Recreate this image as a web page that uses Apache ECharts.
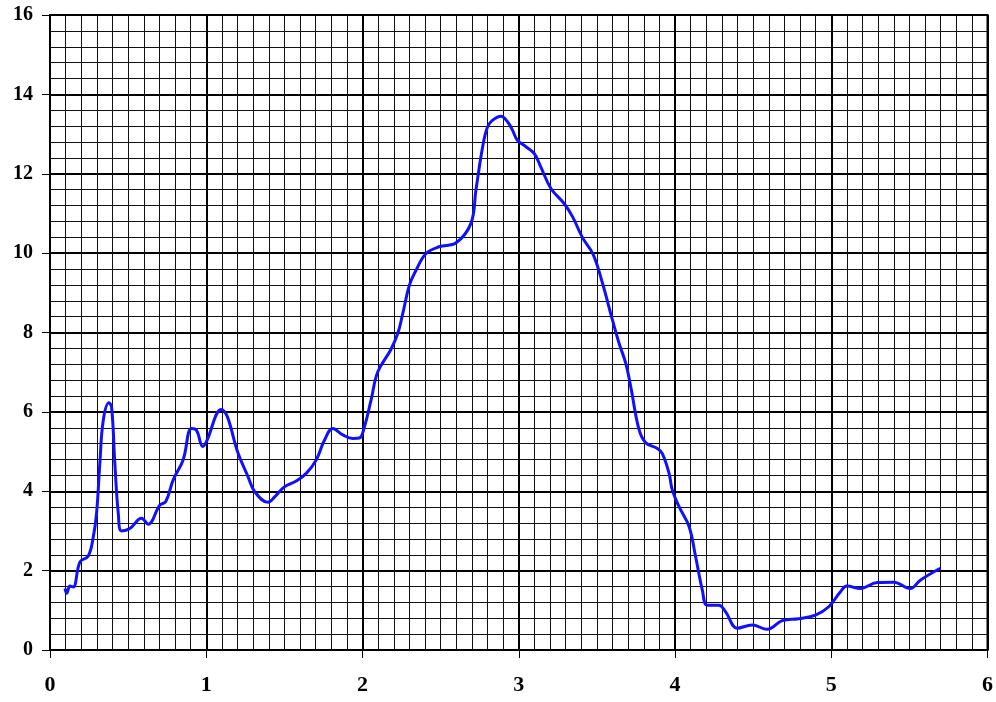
<!DOCTYPE html>
<html>
<head>
<meta charset="utf-8">
<script src="https://cdn.jsdelivr.net/npm/echarts@6/dist/echarts.min.js"></script>
<style>html,body{margin:0;padding:0;background:#fff}#c{width:996px;height:702px}</style>
</head>
<body>
<div id="c"></div>
<script>
const xTicks = [0, 1, 2, 3, 4, 5, 6];
const yTicks = [0, 2, 4, 6, 8, 10, 12, 14, 16];
const xValues = [0.096,0.107,0.128,0.149,0.192,0.245,0.277,0.298,0.319,0.341,0.377,0.394,0.415,0.437,0.458,0.511,0.586,0.628,0.703,0.741,0.788,0.852,0.905,0.937,0.978,1.001,1.097,1.135,1.2,1.267,1.31,1.395,1.438,1.5,1.576,1.64,1.704,1.757,1.81,1.874,1.938,1.98,2.012,2.055,2.098,2.18,2.226,2.258,2.30,2.343,2.407,2.49,2.599,2.694,2.726,2.769,2.80,2.833,2.886,2.928,2.96,2.99,3.046,3.099,3.14,3.206,3.29,3.344,3.408,3.476,3.536,3.60,3.642,3.685,3.717,3.77,3.813,3.887,3.919,3.962,3.983,4.026,4.09,4.132,4.175,4.206,4.281,4.324,4.398,4.494,4.59,4.686,4.792,4.899,4.984,5.059,5.10,5.187,5.293,5.40,5.506,5.57,5.698];
const yValues = [1.55,1.43,1.61,1.59,2.22,2.37,2.85,3.44,4.70,5.79,6.23,6.13,4.70,3.44,3.00,3.06,3.32,3.17,3.65,3.74,4.28,4.79,5.58,5.54,5.13,5.25,6.06,5.88,5.00,4.37,3.99,3.72,3.86,4.11,4.26,4.45,4.79,5.29,5.58,5.42,5.33,5.34,5.62,6.30,7.01,7.56,7.98,8.48,9.19,9.57,9.99,10.16,10.26,10.75,11.59,12.68,13.18,13.35,13.45,13.31,13.10,12.85,12.68,12.51,12.18,11.63,11.25,10.92,10.39,9.97,9.24,8.31,7.73,7.22,6.63,5.55,5.22,5.08,4.95,4.45,4.03,3.61,3.11,2.35,1.51,1.13,1.13,0.96,0.55,0.63,0.52,0.74,0.79,0.88,1.09,1.47,1.61,1.55,1.70,1.71,1.55,1.76,2.06];

const data = xValues.map((x, i) => [x, yValues[i]]);
const labelFont = { fontFamily: 'Liberation Serif', fontWeight: 'bold', color: '#000' };

const chart = echarts.init(document.getElementById('c'), null, { renderer: 'canvas' });
chart.setOption({
  animation: false,
  backgroundColor: '#fff',
  grid: { left: 50, right: 8, top: 15, bottom: 52, show: true, borderColor: '#000', borderWidth: 2 },
  xAxis: {
    type: 'value', min: xTicks[0], max: xTicks[xTicks.length - 1], interval: 1,
    axisLine: { show: true, onZero: false, lineStyle: { color: '#000', width: 2 } },
    axisTick: { show: true, length: 8, lineStyle: { color: '#000', width: 1 } },
    axisLabel: Object.assign({ margin: 24, fontSize: 22 }, labelFont),
    splitLine: { show: true, lineStyle: { color: '#000', width: 2 } },
    minorTick: { show: false, splitNumber: 10 },
    minorSplitLine: { show: true, lineStyle: { color: '#111', width: 1 } }
  },
  yAxis: {
    type: 'value', min: yTicks[0], max: yTicks[yTicks.length - 1], interval: 2,
    axisLine: { show: true, onZero: false, lineStyle: { color: '#000', width: 2 } },
    axisTick: { show: true, length: 8, lineStyle: { color: '#000', width: 1 } },
    axisLabel: Object.assign({ margin: 17, fontSize: 20 }, labelFont),
    splitLine: { show: true, lineStyle: { color: '#000', width: 2 } },
    minorTick: { show: false, splitNumber: 5 },
    minorSplitLine: { show: true, lineStyle: { color: '#111', width: 1 } }
  },
  series: [{
    type: 'line', data: data, smooth: 0.4, showSymbol: false,
    lineStyle: { color: '#1010ff', width: 3 }
  }]
});
</script>
</body>
</html>
